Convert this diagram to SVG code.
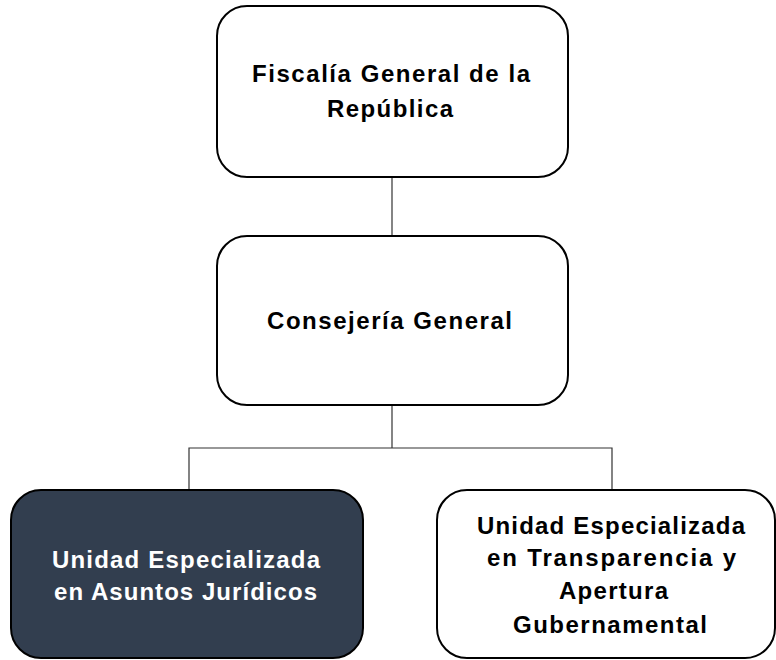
<svg xmlns="http://www.w3.org/2000/svg" width="776" height="660" viewBox="0 0 776 660">
<style>
.box{fill:#ffffff;stroke:#000000;stroke-width:2}
.dark{fill:#323e4f;stroke:#000000;stroke-width:2}
.lbl{font-family:"Liberation Sans",Arial,sans-serif;font-weight:bold;font-size:24px;fill:#000000}
.lblw{font-family:"Liberation Sans",Arial,sans-serif;font-weight:bold;font-size:24px;fill:#ffffff}
.conn{fill:none;stroke:#333333;stroke-width:1.2}
</style>
<rect width="776" height="660" fill="#ffffff"/>
<g id="connectors">
<line class="conn" x1="392" y1="177" x2="392" y2="236"/>
<line class="conn" x1="392" y1="405" x2="392" y2="448"/>
<polyline class="conn" points="189,490 189,448 612,448 612,490"/>
</g>
<g id="fiscalia">
<rect class="box" x="217" y="6" width="351" height="171" rx="30" ry="30"/>
<text class="lbl" x="252" y="82" textLength="278" lengthAdjust="spacing">Fiscalía General de la</text>
<text class="lbl" x="327" y="117" textLength="126" lengthAdjust="spacing">República</text>
</g>
<g id="consejeria">
<rect class="box" x="217" y="236" width="351" height="169" rx="30" ry="30"/>
<text class="lbl" x="267" y="329" textLength="245" lengthAdjust="spacing">Consejería General</text>
</g>
<g id="juridicos">
<rect class="dark" x="11" y="490" width="352" height="168" rx="30" ry="30"/>
<text class="lblw" x="52" y="568" textLength="268" lengthAdjust="spacing">Unidad Especializada</text>
<text class="lblw" x="54" y="600" textLength="263" lengthAdjust="spacing">en Asuntos Jurídicos</text>
</g>
<g id="transparencia">
<rect class="box" x="437" y="490" width="338" height="168" rx="30" ry="30"/>
<text class="lbl" x="477" y="534" textLength="268" lengthAdjust="spacing">Unidad Especializada</text>
<text class="lbl" x="487" y="566" textLength="249" lengthAdjust="spacing">en Transparencia  y</text>
<text class="lbl" x="559" y="599" textLength="109" lengthAdjust="spacing">Apertura</text>
<text class="lbl" x="513" y="633" textLength="194" lengthAdjust="spacing">Gubernamental</text>
</g>
</svg>
